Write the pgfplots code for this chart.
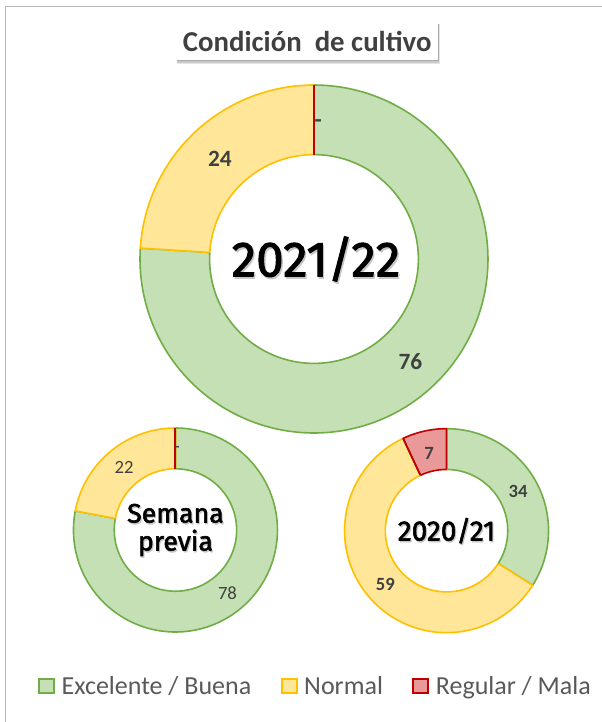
\documentclass[border=0pt]{standalone}
\usepackage{fontspec}
\setmainfont{Carlito}
\newfontfamily\din[FakeBold=2]{Fira Sans}
\usepackage{pgfplots}
\pgfplotsset{compat=1.18}
\usepgfplotslibrary{polar}

\definecolor{gfill}{HTML}{C5E0B4}
\definecolor{gline}{HTML}{70AD47}
\definecolor{yfill}{HTML}{FFE699}
\definecolor{yline}{HTML}{FFC000}
\definecolor{rfill}{HTML}{EA9999}
\definecolor{rline}{HTML}{C00000}
\definecolor{lbl}{HTML}{404040}
\definecolor{leg}{HTML}{595959}

\pgfplotsset{
  donut/.style={hide axis, scale only axis, width=#1, height=#1,
    ymin=0, ymax=1, xmin=0, xmax=360, anchor=center, clip=false},
  seg/.style={line width=1.2pt, samples=150, line join=round},
  lab/.style={draw=none, mark=none, nodes near coords, point meta=explicit symbolic,
    nodes near coords style={anchor=center, text=lbl, font=#1}},
}

\begin{document}
\begin{tikzpicture}
% frame
\draw[color=black!28, line width=1.4pt] (4.1pt,-545pt) -- (4.1pt,-4.9pt) -- (455pt,-4.9pt);

% title box with shadow
\fill[black, opacity=0.10] (132.5pt,-18pt) rectangle (329.8pt,-47.8pt);
\fill[black, opacity=0.12] (132.5pt,-18pt) rectangle (329.3pt,-46.9pt);
\fill[black, opacity=0.15] (132.5pt,-18pt) rectangle (328.9pt,-46.0pt);
\fill[white] (132pt,-17.25pt) rectangle (328.5pt,-45pt);
\node[font=\bfseries\fontsize{21.6}{24}\selectfont, text=lbl] at (230.4pt,-31.3pt) {Condición\ \ de cultivo};

% ===== big donut 2021/22 =====
\begin{polaraxis}[donut=261pt, at={(235.5pt,-194.25pt)},
  legend columns=3,
  legend style={at={(0.505,-0.727)}, anchor=center, draw=none, fill=none,
    font=\fontsize{19.5}{22}\selectfont, text=leg,
    /tikz/every odd column/.append style={column sep=3pt},
    /tikz/every even column/.append style={column sep=20pt}},
  legend image code/.code={\draw[#1, line width=1.5pt] (0pt,-5.6pt) rectangle (11.2pt,5.6pt);},
]
\addlegendimage{fill=gfill, draw=gline}
\addlegendimage{fill=yfill, draw=yline}
\addlegendimage{fill=rfill, draw=rline}
% Excelente/Buena 76, Normal 24, Regular/Mala 0
\addplot[seg, fill=gfill, draw=gline, domain={90-3.6*76}:90] {1} -- (axis cs:0,0) -- cycle;
\addplot[seg, fill=yfill, draw=yline, domain={90-3.6*100}:{90-3.6*76}] {1} -- (axis cs:0,0) -- cycle;
\addplot[fill=white, draw=none, domain=0:360, samples=150] {0.6} -- cycle;
\addplot[seg, draw=gline, domain={90-3.6*76}:90] {0.6};
\addplot[seg, draw=yline, domain={90-3.6*100}:{90-3.6*76}] {0.6};
\addplot[draw=rline, line width=1.6pt] coordinates {(90,0.6) (90,1)};
\addplot[lab={\bfseries\fontsize{17.5}{20}\selectfont}] coordinates {(-46.8,0.81) [76] (133.2,0.79) [24] (88.2,0.78) [-]};
\node[font=\din\fontsize{37}{40}\selectfont, text=black!22] at (axis cs:0,0) [xshift=2.5pt, yshift=-1.5pt] {2021/22};
\node[font=\din\fontsize{37}{40}\selectfont, text=black] at (axis cs:0,0) [xshift=1.5pt] {2021/22};
\legend{Excelente / Buena, Normal, Regular / Mala}
\end{polaraxis}

% ===== Semana previa =====
\begin{polaraxis}[donut=153pt, at={(131.6pt,-397.5pt)}]
% Excelente/Buena 78, Normal 22, Regular/Mala 0
\addplot[seg, fill=gfill, draw=gline, domain={90-3.6*78}:90] {1} -- (axis cs:0,0) -- cycle;
\addplot[seg, fill=yfill, draw=yline, domain={90-3.6*100}:{90-3.6*78}] {1} -- (axis cs:0,0) -- cycle;
\addplot[fill=white, draw=none, domain=0:360, samples=150] {0.6} -- cycle;
\addplot[seg, draw=gline, domain={90-3.6*78}:90] {0.6};
\addplot[seg, draw=yline, domain={90-3.6*100}:{90-3.6*78}] {0.6};
\addplot[draw=rline, line width=1.5pt] coordinates {(90,0.6) (90,1)};
\addplot[lab={\fontsize{14}{16}\selectfont}] coordinates {(-50.4,0.8) [78] (129.6,0.79) [22] (89,0.79) [-]};
\node[align=center, font=\din\fontsize{20}{21}\selectfont, text=black!22] at (axis cs:0,0) [xshift=0.8pt, yshift=-1.2pt] {Semana\\previa};
\node[align=center, font=\din\fontsize{20}{21}\selectfont, text=black] at (axis cs:0,0) {Semana\\previa};
\end{polaraxis}

% ===== 2020/21 =====
\begin{polaraxis}[donut=153pt, at={(334.9pt,-398pt)}]
% Excelente/Buena 34, Normal 59, Regular/Mala 7
\addplot[seg, fill=gfill, draw=gline, domain={90-3.6*34}:90] {1} -- (axis cs:0,0) -- cycle;
\addplot[seg, fill=yfill, draw=yline, domain={90-3.6*93}:{90-3.6*34}] {1} -- (axis cs:0,0) -- cycle;
\addplot[seg, fill=rfill, draw=rline, domain={90-3.6*100}:{90-3.6*93}] {1} -- (axis cs:0,0) -- cycle;
\addplot[fill=white, draw=none, domain=0:360, samples=150] {0.6} -- cycle;
\addplot[seg, draw=gline, domain={90-3.6*34}:90] {0.6};
\addplot[seg, draw=yline, domain={90-3.6*93}:{90-3.6*34}] {0.6};
\addplot[seg, draw=rline, domain={90-3.6*100}:{90-3.6*93}] {0.6};
\addplot[draw=rline, line width=1.2pt] coordinates {(90,0.6) (90,1)};
\addplot[draw=rline, line width=1.2pt] coordinates {(115.2,0.6) (115.2,1)};
\addplot[lab={\bfseries\fontsize{14}{16}\selectfont}] coordinates {(28.8,0.8) [34] (-138.6,0.8) [59] (102.6,0.78) [7]};
\node[font=\din\fontsize{21}{24}\selectfont, text=black!22] at (axis cs:0,0) [xshift=0.8pt, yshift=-1.2pt] {2020/21};
\node[font=\din\fontsize{21}{24}\selectfont, text=black] at (axis cs:0,0) {2020/21};
\end{polaraxis}

\pgfresetboundingbox
\useasboundingbox (0,0) rectangle (451.5pt,-541.5pt);
\end{tikzpicture}
\end{document}
